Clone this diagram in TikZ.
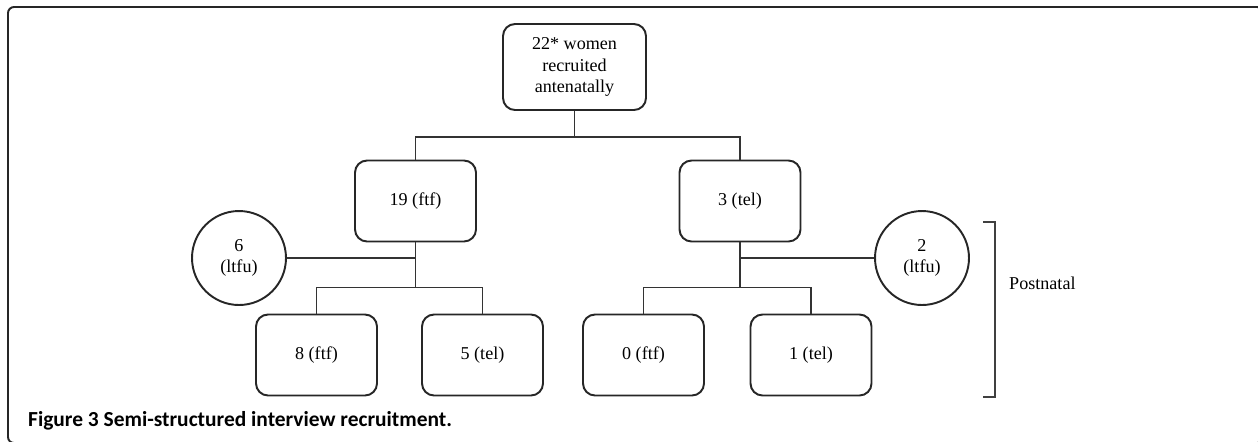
\documentclass[tikz,border=0pt]{standalone}
\usepackage{fontspec}
\setmainfont{Liberation Serif}
\newfontfamily\capfont{Carlito}
\begin{document}
\begin{tikzpicture}[x=0.02cm, y=-0.02cm, font=\fontsize{10.3}{12}\selectfont,
  box/.style={draw=black!85, line width=1.1pt, rounded corners=0.24cm, fill=white,
    minimum width=2.42cm, minimum height=1.62cm, align=center, inner sep=2pt},
  lost/.style={draw=black!85, line width=1.1pt, circle, fill=white,
    minimum size=1.88cm, align=center, inner sep=1pt},
  link/.style={draw=black!80, line width=0.95pt}]
  \useasboundingbox (0,0) rectangle (1258,441);
  \draw[line width=1.1pt, black!85, rounded corners=0.12cm] (8,7) rectangle (1263,443);
  \node[box, minimum width=2.86cm, minimum height=1.72cm] (recr) at (574.5,67) {22* women\\recruited\\antenatally};
  \node[box] (ftf) at (415.5,201) {19 (ftf)};
  \node[box] (tel) at (740,201) {3 (tel)};
  \node[lost] (lostA) at (239,258) {6\\(ltfu)};
  \node[lost] (lostB) at (922,258) {2\\(ltfu)};
  \node[box] (ftfA) at (316.5,355) {8 (ftf)};
  \node[box] (telA) at (482.5,355) {5 (tel)};
  \node[box] (ftfB) at (643.5,355) {0 (ftf)};
  \node[box] (telB) at (811,355) {1 (tel)};
  \draw[link] (recr.south) -- +(0,26) coordinate (forkA);
  \draw[link] (ftf.north) |- (forkA) -| (tel.north);
  \draw[link] (ftf.south) -- +(0,45) coordinate (forkB);
  \draw[link] (ftfA.north) |- (forkB) -| (telA.north);
  \draw[link] (lostA.east) -- (ftf.south |- lostA.east);
  \draw[link] (tel.south) -- +(0,45) coordinate (forkC);
  \draw[link] (ftfB.north) |- (forkC) -| (telB.north);
  \draw[link] (lostB.west) -- (tel.south |- lostB.west);
  \node[anchor=west] (post) at (1003,283) {Postnatal};
  \draw[line width=1.1pt, black!75] (983,222) -- (995,222) -- (995,397) -- (983,397);
  \node[anchor=west, font=\capfont\bfseries\fontsize{12.2}{14}\selectfont] (cap) at (22,421) {Figure 3 Semi-structured interview recruitment.};
\end{tikzpicture}
\end{document}
